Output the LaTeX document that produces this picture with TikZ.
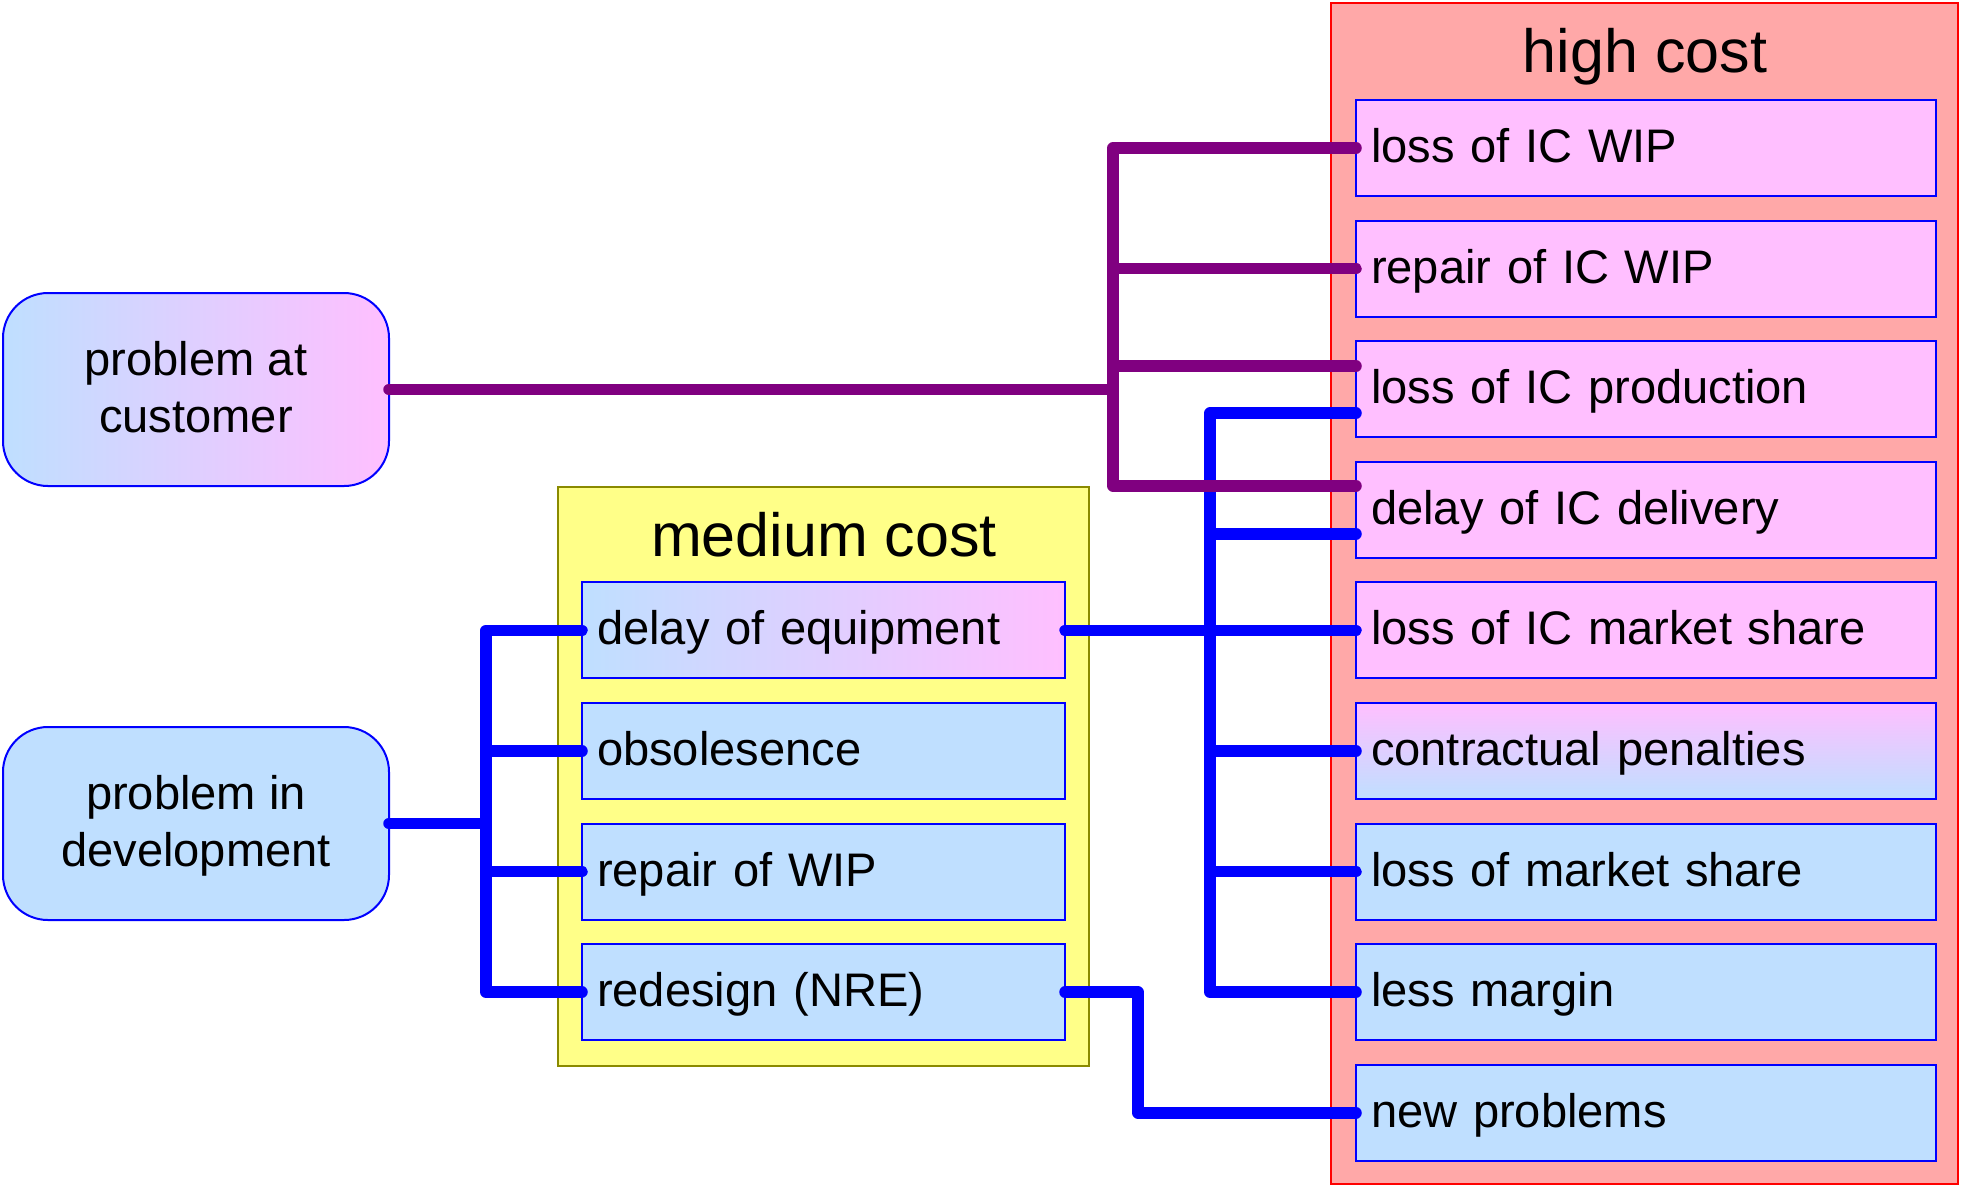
\documentclass[tikz,border=0pt]{standalone}
\usepackage{fontspec}
\setmainfont{Liberation Sans}
\definecolor{pinkf}{HTML}{FFBFFF}
\definecolor{bluef}{HTML}{BFDFFF}
\definecolor{highf}{HTML}{FFA8A8}
\definecolor{medf}{HTML}{FFFF88}
\definecolor{medd}{HTML}{8A8A00}
\definecolor{purp}{HTML}{800080}
\definecolor{bblue}{HTML}{0000FF}
\definecolor{bred}{HTML}{FF0000}
\begin{document}
\begin{tikzpicture}[x=1pt,y=-1pt,
  every node/.style={inner sep=0pt, outer sep=0pt},
  txt/.style={font=\fontsize{47.1}{57}\selectfont},
  ttl/.style={font=\fontsize{61}{73}\selectfont, anchor=base},
  boxbase/.style={draw=bblue, line width=2pt, txt, align=left, inner xsep=15pt,
    minimum height=96pt, text height=36pt, text depth=7pt},
  rbox/.style={boxbase, text width=550pt},
  mbox/.style={boxbase, text width=453pt},
  pinkbox/.style={fill=pinkf},
  bluebox/.style={fill=bluef},
  rounded/.style={draw=bblue, line width=2pt, rounded corners=45pt, txt, align=center,
    minimum width=386pt, minimum height=193pt, text height=91pt, text depth=6pt},
  conn/.style={line width=11.5pt, line cap=round, line join=round},
  bconn/.style={conn, draw=bblue},
  pconn/.style={conn, draw=purp}
]
\useasboundingbox (0,0) rectangle (1961,1187);

% group frames
\node (hc) [draw=bred, line width=2pt, fill=highf, minimum width=627pt, minimum height=1181pt] at (1644.5,593.5) {};
\node (mc) [draw=medd, line width=2pt, fill=medf, minimum width=531pt, minimum height=579pt] at (823.5,776.5) {};
\node (hct) [ttl] at (1645,72) {high cost};
\node (mct) [ttl] at (824,556) {medium cost};

% left boxes
\node (cust) [rounded, left color=bluef, right color=pinkf] at (196,389.5) {problem at\\customer};
\node (dev) [rounded, fill=bluef] at (196,823.5) {problem in\\development};

% medium cost items
\node (m1) [mbox, left color=bluef, right color=pinkf] at (823.5,630.4) {delay of equipment};
\node (m2) [mbox, bluebox] at (823.5,751) {obsolesence};
\node (m3) [mbox, bluebox] at (823.5,871.6) {repair of WIP};
\node (m4) [mbox, bluebox] at (823.5,992.2) {redesign (NRE)};

% high cost items
\node (r1) [rbox, pinkbox] at (1646,148) {loss of IC WIP};
\node (r2) [rbox, pinkbox] at (1646,268.6) {repair of IC WIP};
\node (r3) [rbox, pinkbox] at (1646,389.2) {loss of IC production};
\node (r4) [rbox, pinkbox] at (1646,509.8) {delay of IC delivery};
\node (r5) [rbox, pinkbox] at (1646,630.4) {loss of IC market share};
\node (r6) [rbox, top color=pinkf, bottom color=bluef] at (1646,751) {contractual penalties};
\node (r7) [rbox, bluebox] at (1646,871.6) {loss of market share};
\node (r8) [rbox, bluebox] at (1646,992.2) {less margin};
\node (r9) [rbox, bluebox] at (1646,1112.8) {new problems};

% trunk coordinates
\coordinate (td) at (486,0);
\coordinate (tb) at (1210,0);
\coordinate (tn) at (1138,0);
\coordinate (tp) at (1113,0);

% blue connectors (development)
\draw[bconn] (dev.east) -- (dev.east -| td);
\draw[bconn] (m1.west) -- (m1.west -| td) -- (m4.west -| td) -- (m4.west);
\draw[bconn] (m2.west) -- (m2.west -| td);
\draw[bconn] (m3.west) -- (m3.west -| td);

\draw[bconn] ([yshift=-24pt]r3.west) -- ([yshift=-24pt]r3.west -| tb) -- (r8.west -| tb) -- (r8.west);
\draw[bconn] ([yshift=-24pt]r4.west) -- ([yshift=-24pt]r4.west -| tb);
\draw[bconn] (m1.east) -- (r5.west);
\draw[bconn] (r6.west) -- (r6.west -| tb);
\draw[bconn] (r7.west) -- (r7.west -| tb);
\draw[bconn] (m4.east) -- (m4.east -| tn) |- (r9.west);

% purple connectors (customer)
\draw[pconn] (cust.east) -- (cust.east -| tp);
\draw[pconn] (r1.west) -- (r1.west -| tp) -- ([yshift=24pt]r4.west -| tp) -- ([yshift=24pt]r4.west);
\draw[pconn] (r2.west) -- (r2.west -| tp);
\draw[pconn] ([yshift=23pt]r3.west) -- ([yshift=23pt]r3.west -| tp);
\end{tikzpicture}
\end{document}
